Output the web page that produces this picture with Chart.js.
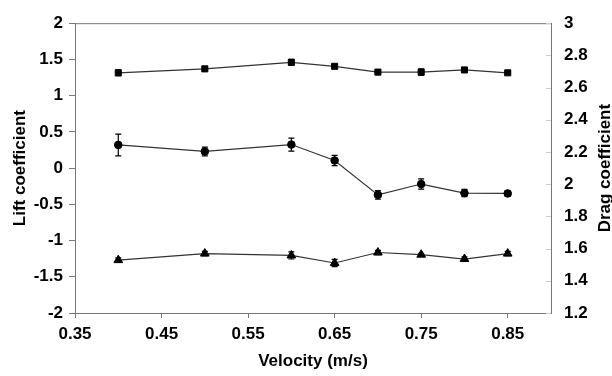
<!DOCTYPE html>
<html>
<head>
<meta charset="utf-8">
<script src="https://cdn.jsdelivr.net/npm/chart.js@4/dist/chart.umd.min.js"></script>
<style>
  body { margin: 0; background: #fff; }
  canvas { display: block; }
</style>
</head>
<body>
<canvas id="chart" width="612" height="376"></canvas>
<script>
// velocity (m/s)
const velocity = [0.4, 0.5, 0.6, 0.65, 0.7, 0.75, 0.8, 0.85];
const xTicks = [0.35, 0.45, 0.55, 0.65, 0.75, 0.85];

// values read against the left axis
const squareValues   = [1.315, 1.37, 1.46, 1.405, 1.325, 1.325, 1.355, 1.315];
const squareErrors   = [0.04, 0.02, 0.04, 0.02, 0.02, 0.045, 0.02, 0.02];
const circleValues   = [0.32, 0.23, 0.325, 0.105, -0.37, -0.22, -0.345, -0.35];
const circleErrors   = [0.15, 0.06, 0.09, 0.07, 0.06, 0.07, 0.05, 0.04];
const triangleValues = [-1.27, -1.18, -1.205, -1.31, -1.165, -1.195, -1.255, -1.18];
const triangleErrors = [0.03, 0.03, 0.05, 0.05, 0.03, 0.02, 0.03, 0.03];

const FONT = "'Liberation Sans', Arial, sans-serif";
const AXIS = '#777';

function pts(ys)
{
    return velocity.map((v, i) => ({ x: v, y: ys[i] }));
}

function series(ys, errs, style, radius)
{
    return {
        data: pts(ys),
        errors: errs,
        yAxisID: 'y',
        borderColor: '#333',
        borderWidth: 1.2,
        pointStyle: style,
        pointRadius: radius,
        pointBackgroundColor: '#000',
        pointBorderColor: '#000',
        pointBorderWidth: 1,
        tension: 0,
        fill: false
    };
}

function plain(v)
{
    return String(Number(v.toFixed(2)));
}

const errorBars = {
    id: 'errorBars',
    beforeDatasetsDraw(c) {
        const ctx = c.ctx;
        ctx.save();
        ctx.strokeStyle = '#000';
        ctx.lineWidth = 1.2;
        c.data.datasets.forEach((ds, di) => {
            const meta = c.getDatasetMeta(di);
            const ys = c.scales[ds.yAxisID];
            meta.data.forEach((p, i) => {
                const v = ds.data[i].y, e = ds.errors[i];
                const t = ys.getPixelForValue(v + e), b = ys.getPixelForValue(v - e);
                ctx.beginPath();
                ctx.moveTo(p.x, t); ctx.lineTo(p.x, b);
                ctx.moveTo(p.x - 3, t); ctx.lineTo(p.x + 3, t);
                ctx.moveTo(p.x - 3, b); ctx.lineTo(p.x + 3, b);
                ctx.stroke();
            });
        });
        ctx.restore();
    }
};

const frame = {
    id: 'frame',
    afterDraw(c) {
        const ctx = c.ctx, a = c.chartArea, r = c.scales.y2;
        ctx.save();
        // top border
        ctx.strokeStyle = AXIS;
        ctx.lineWidth = 1;
        ctx.beginPath();
        ctx.moveTo(a.left, a.top + 0.5);
        ctx.lineTo(a.right, a.top + 0.5);
        ctx.stroke();
        // inside ticks on the right axis
        ctx.strokeStyle = '#ccc';
        r.ticks.forEach(t => {
            const y = Math.round(r.getPixelForValue(t.value)) + 0.5;
            ctx.beginPath();
            ctx.moveTo(a.right - 5, y);
            ctx.lineTo(a.right, y);
            ctx.stroke();
        });
        // right title, reading bottom to top
        ctx.fillStyle = '#000';
        ctx.font = 'bold 17px ' + FONT;
        ctx.textAlign = 'center';
        ctx.textBaseline = 'middle';
        ctx.translate(605, (a.top + a.bottom) / 2);
        ctx.rotate(-Math.PI / 2);
        ctx.fillText('Drag coefficient', 0, 0);
        ctx.restore();
    }
};

new Chart(document.getElementById('chart').getContext('2d'), {
    type: 'line',
    data: {
        datasets: [
            series(squareValues, squareErrors, 'rect', 4.3),
            series(circleValues, circleErrors, 'circle', 3.8),
            series(triangleValues, triangleErrors, 'triangle', 5)
        ]
    },
    options: {
        responsive: false,
        animation: false,
        layout: { padding: { top: 21, right: 0, left: 0, bottom: 0 } },
        plugins: { legend: { display: false }, tooltip: { enabled: false } },
        scales: {
            x: {
                type: 'linear',
                min: 0.35,
                max: 0.9,
                afterBuildTicks: s => { s.ticks = xTicks.map(v => ({ value: v })); },
                afterFit: s => { s.height = 63; },
                grid: { display: true, drawOnChartArea: false, drawTicks: true, tickLength: 5, color: AXIS },
                border: { display: true, color: AXIS, width: 1 },
                ticks: {
                    color: '#000',
                    padding: 6,
                    maxRotation: 0,
                    font: { family: FONT, size: 17, weight: 'bold' },
                    callback: v => v.toFixed(2)
                },
                title: {
                    display: true,
                    text: 'Velocity (m/s)',
                    color: '#000',
                    padding: { top: 0, bottom: 4 },
                    font: { family: FONT, size: 17, weight: 'bold' }
                }
            },
            y: {
                position: 'left',
                min: -2,
                max: 2,
                afterFit: s => { s.width = 75; },
                grid: { display: true, drawOnChartArea: false, drawTicks: true, tickLength: 6, color: AXIS },
                border: { display: true, color: AXIS, width: 1 },
                ticks: {
                    stepSize: 0.5,
                    color: '#000',
                    padding: 6,
                    font: { family: FONT, size: 17, weight: 'bold' },
                    callback: plain
                },
                title: {
                    display: true,
                    text: 'Lift coefficient',
                    color: '#000',
                    padding: { top: 10, bottom: 0 },
                    font: { family: FONT, size: 17, weight: 'bold' }
                }
            },
            y2: {
                position: 'right',
                min: 1.2,
                max: 3,
                afterFit: s => { s.width = 61; },
                grid: { display: false, drawOnChartArea: false, drawTicks: false },
                border: { display: true, color: AXIS, width: 1 },
                ticks: {
                    stepSize: 0.2,
                    color: '#000',
                    padding: 13,
                    font: { family: FONT, size: 17, weight: 'bold' },
                    callback: plain
                }
            }
        }
    },
    plugins: [errorBars, frame]
});
</script>
</body>
</html>
